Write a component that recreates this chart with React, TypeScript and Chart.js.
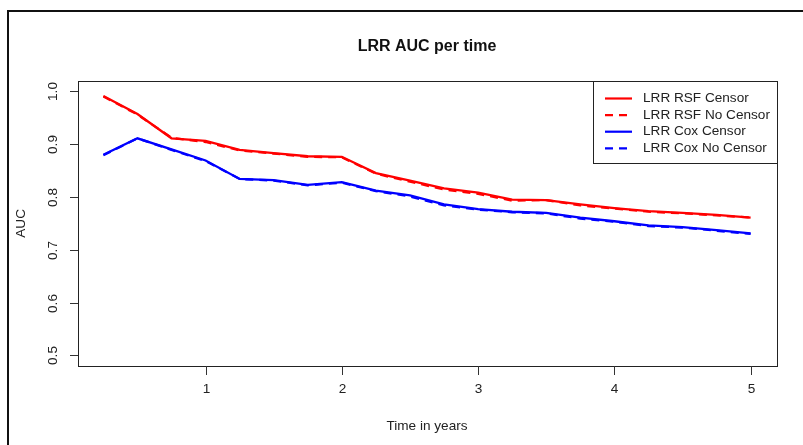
import React, { useEffect, useRef } from "react";
import { Chart, registerables } from "chart.js";

Chart.register(...registerables);

const times = [0.25, 0.5, 0.75, 1, 1.25, 1.5, 1.75, 2, 2.25, 2.5, 2.75, 3, 3.25, 3.5, 3.75, 4, 4.25, 4.5, 4.75, 5];
const rsfCensor = [0.991, 0.957, 0.911, 0.906, 0.889, 0.883, 0.877, 0.876, 0.845, 0.831, 0.816, 0.808, 0.795, 0.794, 0.786, 0.779, 0.773, 0.770, 0.766, 0.761];
const rsfNoCensor = [0.990, 0.956, 0.912, 0.904, 0.888, 0.882, 0.876, 0.875, 0.844, 0.829, 0.814, 0.806, 0.793, 0.794, 0.784, 0.778, 0.772, 0.769, 0.765, 0.761];
const coxCensor = [0.880, 0.911, 0.890, 0.869, 0.834, 0.832, 0.823, 0.828, 0.812, 0.803, 0.786, 0.777, 0.772, 0.770, 0.761, 0.754, 0.746, 0.743, 0.737, 0.731];
const coxNoCensor = [0.879, 0.911, 0.889, 0.868, 0.834, 0.831, 0.822, 0.827, 0.811, 0.801, 0.784, 0.776, 0.771, 0.769, 0.759, 0.753, 0.745, 0.742, 0.736, 0.730];

const seriesNames = ["LRR RSF Censor", "LRR RSF No Censor", "LRR Cox Censor", "LRR Cox No Censor"];
const seriesColors = ["#ff0000", "#ff0000", "#0000ff", "#0000ff"];
const seriesDashed = [false, true, false, true];
const seriesValues = [rsfCensor, rsfNoCensor, coxCensor, coxNoCensor];

const xTicks = [1, 2, 3, 4, 5];
const yTicks = [0.5, 0.6, 0.7, 0.8, 0.9, 1.0];
const xRange = [0.06, 5.19];
const yRange = [0.48, 1.02];

const titleText = "LRR AUC per time";
const xTitle = "Time in years";
const yTitle = "AUC";

const FONT = "'Liberation Sans', Arial, sans-serif";

const rPlotPlugin = {
  id: "rPlot",
  afterDraw(chart: any) {
    const ctx = chart.ctx;
    const { left, right, top, bottom } = chart.chartArea;
    const xs = chart.scales.x;
    const ys = chart.scales.y;
    ctx.save();

    // outer frame
    ctx.strokeStyle = "#111";
    ctx.lineWidth = 2;
    ctx.beginPath();
    ctx.moveTo(8, 445);
    ctx.lineTo(8, 11);
    ctx.lineTo(803, 11);
    ctx.stroke();

    // plot box
    ctx.strokeStyle = "#222";
    ctx.lineWidth = 1;
    ctx.strokeRect(Math.round(left) + 0.5, Math.round(top) + 0.5, Math.round(right - left), Math.round(bottom - top));

    ctx.fillStyle = "#222";
    ctx.strokeStyle = "#333";
    // y ticks
    ctx.font = `13.6px ${FONT}`;
    for (const v of yTicks) {
      const py = Math.round(ys.getPixelForValue(v)) + 0.5;
      ctx.beginPath();
      ctx.moveTo(Math.round(left) - 8, py);
      ctx.lineTo(Math.round(left), py);
      ctx.stroke();
      ctx.save();
      ctx.translate(53, py);
      ctx.rotate(-Math.PI / 2);
      ctx.textAlign = "center";
      ctx.textBaseline = "middle";
      ctx.fillText(v.toFixed(1), 0, 0);
      ctx.restore();
    }
    // x ticks
    for (const v of xTicks) {
      const px = Math.round(xs.getPixelForValue(v)) + 0.5;
      ctx.beginPath();
      ctx.moveTo(px, Math.round(bottom));
      ctx.lineTo(px, Math.round(bottom) + 9);
      ctx.stroke();
      ctx.textAlign = "center";
      ctx.textBaseline = "middle";
      ctx.fillText(String(v), px, 389);
    }

    const cx = (left + right) / 2;
    const cy = (top + bottom) / 2;
    ctx.textAlign = "center";
    ctx.textBaseline = "middle";
    ctx.fillText(xTitle, cx, 426);
    ctx.save();
    ctx.translate(21, cy);
    ctx.rotate(-Math.PI / 2);
    ctx.fillText(yTitle, 0, 0);
    ctx.restore();

    ctx.font = `bold 16px ${FONT}`;
    ctx.fillStyle = "#111";
    ctx.fillText(titleText, cx, 47);

    // legend
    const lx0 = 593;
    const ly0 = Math.round(top) + 0.5;
    const lx1 = Math.round(right) + 0.5;
    const ly1 = 163.5;
    ctx.fillStyle = "#fff";
    ctx.fillRect(lx0, ly0, lx1 - lx0, ly1 - ly0);
    ctx.strokeStyle = "#222";
    ctx.lineWidth = 1;
    ctx.strokeRect(lx0 + 0.5, ly0, lx1 - lx0 - 0.5, ly1 - ly0);
    ctx.font = `13.6px ${FONT}`;
    ctx.textAlign = "left";
    ctx.textBaseline = "middle";
    seriesNames.forEach((name, i) => {
      const y = 98.5 + i * 16.6;
      ctx.strokeStyle = seriesColors[i];
      ctx.lineWidth = 2.2;
      ctx.setLineDash(seriesDashed[i] ? [8, 6] : []);
      ctx.beginPath();
      ctx.moveTo(605, y);
      ctx.lineTo(632, y);
      ctx.stroke();
      ctx.setLineDash([]);
      ctx.fillStyle = "#222";
      ctx.fillText(name, 643, y);
    });

    ctx.restore();
  },
};

export default function App() {
  const ref = useRef<HTMLCanvasElement | null>(null);
  useEffect(() => {
    if (!ref.current) return;
    const chart = new Chart(ref.current, {
      type: "line",
      data: {
        datasets: seriesNames.map((name, i) => ({
          label: name,
          data: times.map((t, j) => ({ x: t, y: seriesValues[i][j] })),
          borderColor: seriesColors[i],
          backgroundColor: seriesColors[i],
          borderWidth: 2.3,
          borderDash: seriesDashed[i] ? [8, 6] : [],
          pointRadius: 0,
          tension: 0,
          fill: false,
        })),
      },
      options: {
        animation: false,
        responsive: false,
        layout: { padding: { left: 77.5, right: 26.5, top: 80.7, bottom: 79 } },
        plugins: { legend: { display: false }, title: { display: false }, tooltip: { enabled: false } },
        scales: {
          x: { type: "linear", min: xRange[0], max: xRange[1], display: false },
          y: { type: "linear", min: yRange[0], max: yRange[1], display: false },
        },
      },
      plugins: [rPlotPlugin],
    });
    return () => chart.destroy();
  }, []);
  return (
    <div style={{ position: "absolute", left: 0, top: 0, width: 803, height: 445, background: "#fff" }}>
      <canvas ref={ref} width={803} height={445} style={{ width: 803, height: 445, display: "block" }} />
    </div>
  );
}
